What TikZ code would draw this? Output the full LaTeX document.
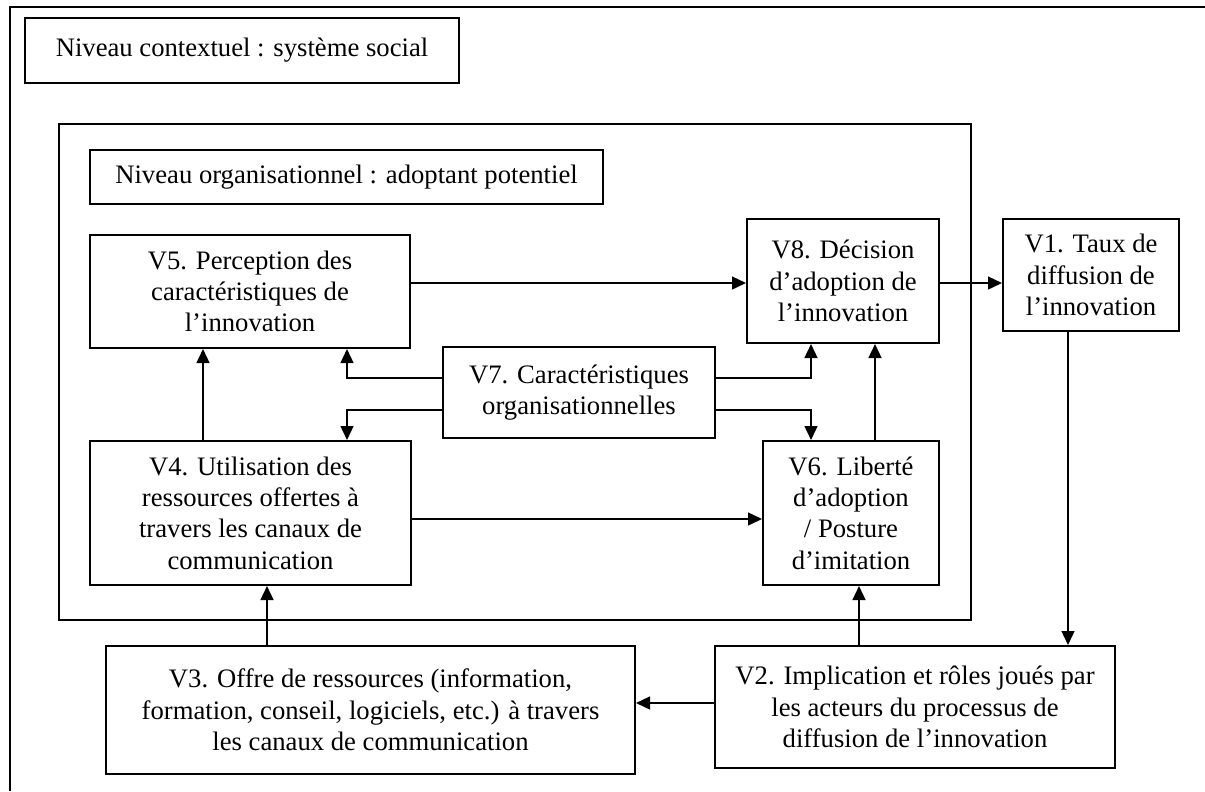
\documentclass[tikz,border=0pt]{standalone}
\usepackage{fontspec}
\setmainfont{Liberation Serif}
\usetikzlibrary{arrows.meta}
\tikzset{
  bx/.style={draw, line width=0.9pt, align=center, inner sep=0pt, anchor=center,
    font=\fontsize{12}{14.1}\selectfont},
  arr/.style={line width=0.8pt, -{Triangle[length=6.3pt,width=5.8pt]}},
  frame/.style={line width=0.9pt}
}
\begin{document}
\begin{tikzpicture}[x=0.45pt, y=-0.45pt]
\useasboundingbox (0,0) rectangle (1205,791);
% outer contextual frame (extends beyond the picture)
\draw[frame] (10,791) -- (10,7) -- (1205,7);
\node[bx, minimum width=195.3pt, minimum height=29.25pt] (ctx) at (242,50.5) {Niveau contextuel : système social};
% organisational frame
\node[draw, line width=0.9pt, inner sep=0pt, minimum width=410.6pt, minimum height=223.2pt] (org) at (514.75,372) {};
\node[bx, minimum width=230.85pt, minimum height=24.3pt] (nivorg) at (346.5,177) {Niveau organisationnel : adoptant potentiel};
\node[bx, minimum width=144pt, minimum height=50.85pt] (V5) at (250,291.5) {V5. Perception des\\caractéristiques de\\l’innovation};
\node[bx, minimum width=86.4pt, minimum height=55.8pt] (V8) at (843,281) {V8. Décision\\d’adoption de\\l’innovation};
\node[bx, minimum width=79.2pt, minimum height=50.4pt] (V1) at (1091,275) {V1. Taux de\\diffusion de\\l’innovation};
\node[bx, minimum width=122.4pt, minimum height=40.95pt] (V7) at (579,392.5) {V7. Caractéristiques\\organisationnelles};
\node[bx, minimum width=144.45pt, minimum height=64.8pt] (V4) at (250.5,513) {V4. Utilisation des\\ressources offertes à\\travers les canaux de\\communication};
\node[bx, minimum width=79.2pt, minimum height=64.8pt] (V6) at (851,513) {V6. Liberté\\d’adoption\\/ Posture\\d’imitation};
\node[bx, minimum width=238.05pt, minimum height=57.6pt] (V3) at (370.5,710) {V3. Offre de ressources (information,\\formation, conseil, logiciels, etc.) à travers\\les canaux de communication};
\node[bx, minimum width=180pt, minimum height=54.9pt] (V2) at (915,707) {V2. Implication et rôles joués par\\les acteurs du processus de\\diffusion de l’innovation};
% guide coordinates
\coordinate (y283) at (0,283);
\coordinate (y378) at (0,378);
\coordinate (y410) at (0,410);
\coordinate (y519) at (0,519);
\coordinate (y703) at (0,703);
\coordinate (x203) at (203,0);
\coordinate (x267) at (267,0);
\coordinate (x347) at (347,0);
\coordinate (x811) at (811,0);
\coordinate (x859) at (859,0);
\coordinate (x875) at (875,0);
\coordinate (x1068) at (1068,0);
% connectors
\draw[arr] (V5.east |- y283) -- (V8.west |- y283);
\draw[arr] (V8.east |- y283) -- (V1.west |- y283);
\draw[arr] (x203 |- V4.north) -- (x203 |- V5.south);
\draw[arr] (V7.west |- y378) -| (x347 |- V5.south);
\draw[arr] (V7.west |- y410) -| (x347 |- V4.north);
\draw[arr] (V7.east |- y378) -| (x811 |- V8.south);
\draw[arr] (V7.east |- y410) -| (x811 |- V6.north);
\draw[arr] (x875 |- V6.north) -- (x875 |- V8.south);
\draw[arr] (V4.east |- y519) -- (V6.west |- y519);
\draw[arr] (x1068 |- V1.south) -- (x1068 |- V2.north);
\draw[arr] (x859 |- V2.north) -- (x859 |- V6.south);
\draw[arr] (x267 |- V3.north) -- (x267 |- V4.south);
\draw[arr] (V2.west |- y703) -- (V3.east |- y703);
\end{tikzpicture}
\end{document}
